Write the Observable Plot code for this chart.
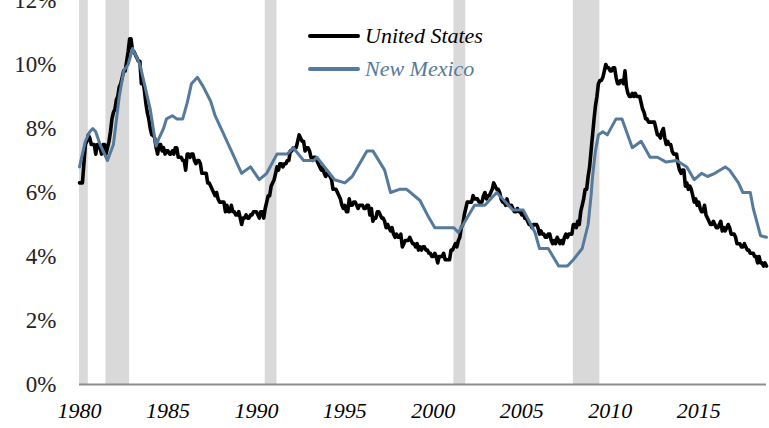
<!DOCTYPE html>
<html><head><meta charset="utf-8">
<script src="https://cdn.jsdelivr.net/npm/d3@7"></script>
<script src="https://cdn.jsdelivr.net/npm/@observablehq/plot@0.6"></script>
<style>
body{margin:0;background:#fff;}
#wrap{position:relative;width:769px;height:428px;overflow:hidden;}
.legend{position:absolute;left:308px;top:19px;font-family:"Liberation Serif",serif;font-style:italic;font-size:22px;}
.row{display:flex;align-items:center;height:33px;}
.sw{width:52px;height:4px;margin-right:5px;border-radius:2px;}
</style></head><body><div id="wrap"></div>
<script>
// US unemployment rate, monthly from Jan 1980
const usStartYear = 1980;
const usRate = [
6.3,6.3,6.3,6.9,7.5,7.6,7.8,7.7,7.5,7.5,7.5,7.2,
7.5,7.4,7.4,7.2,7.5,7.5,7.2,7.4,7.6,7.9,8.3,8.5,
8.6,8.9,9.0,9.3,9.4,9.6,9.8,9.8,10.1,10.4,10.8,10.8,
10.4,10.4,10.3,10.2,10.1,10.1,9.4,9.5,9.2,8.8,8.5,8.3,
8.0,7.8,7.8,7.7,7.4,7.2,7.5,7.5,7.3,7.4,7.2,7.3,
7.3,7.2,7.2,7.3,7.2,7.4,7.4,7.1,7.1,7.1,7.0,7.0,
6.7,7.2,7.2,7.1,7.2,7.2,7.0,6.9,7.0,7.0,6.9,6.6,
6.6,6.6,6.6,6.3,6.3,6.2,6.1,6.0,5.9,6.0,5.8,5.7,
5.7,5.7,5.7,5.4,5.6,5.4,5.4,5.6,5.4,5.4,5.3,5.3,
5.4,5.2,5.0,5.2,5.2,5.3,5.2,5.2,5.3,5.3,5.4,5.4,
5.4,5.3,5.2,5.4,5.4,5.2,5.5,5.7,5.9,5.9,6.2,6.3,
6.4,6.6,6.8,6.7,6.9,6.9,6.8,6.9,6.9,7.0,7.0,7.3,
7.3,7.4,7.4,7.4,7.6,7.8,7.7,7.6,7.6,7.3,7.4,7.4,
7.3,7.1,7.0,7.1,7.1,7.0,6.9,6.8,6.7,6.8,6.6,6.5,
6.6,6.6,6.5,6.4,6.1,6.1,6.1,6.0,5.9,5.8,5.6,5.5,
5.6,5.4,5.4,5.8,5.6,5.6,5.7,5.7,5.6,5.5,5.6,5.6,
5.6,5.5,5.5,5.6,5.6,5.3,5.5,5.1,5.2,5.2,5.4,5.4,
5.3,5.2,5.2,5.1,4.9,5.0,4.9,4.8,4.9,4.7,4.6,4.7,
4.6,4.6,4.7,4.3,4.4,4.5,4.5,4.5,4.6,4.5,4.4,4.4,
4.3,4.4,4.2,4.3,4.2,4.3,4.3,4.2,4.2,4.1,4.1,4.0,
4.0,4.1,4.0,3.8,4.0,4.0,4.0,4.1,3.9,3.9,3.9,3.9,
4.2,4.2,4.3,4.4,4.3,4.5,4.6,4.9,5.0,5.3,5.5,5.7,
5.7,5.7,5.7,5.9,5.8,5.8,5.8,5.7,5.7,5.7,5.9,6.0,
5.8,5.9,5.9,6.0,6.1,6.3,6.2,6.1,6.1,6.0,5.8,5.7,
5.7,5.6,5.8,5.6,5.6,5.6,5.5,5.4,5.4,5.5,5.4,5.4,
5.3,5.4,5.2,5.2,5.1,5.0,5.0,4.9,5.0,5.0,5.0,4.9,
4.7,4.8,4.7,4.7,4.6,4.6,4.7,4.7,4.5,4.4,4.5,4.4,
4.6,4.5,4.4,4.5,4.4,4.6,4.7,4.6,4.7,4.7,4.7,5.0,
5.0,4.9,5.1,5.0,5.4,5.6,5.8,6.1,6.1,6.5,6.8,7.3,
7.8,8.3,8.7,9.0,9.4,9.5,9.5,9.6,9.8,10.0,9.9,9.9,
9.8,9.8,9.9,9.9,9.6,9.4,9.4,9.5,9.5,9.4,9.8,9.3,
9.1,9.0,9.0,9.1,9.0,9.1,9.0,9.0,9.0,8.8,8.6,8.5,
8.3,8.3,8.2,8.2,8.2,8.2,8.2,8.0,7.8,7.8,7.7,7.9,
8.0,7.7,7.5,7.6,7.5,7.5,7.3,7.2,7.2,7.2,6.9,6.7,
6.6,6.7,6.7,6.2,6.3,6.1,6.2,6.1,5.9,5.7,5.8,5.6,
5.7,5.5,5.4,5.4,5.6,5.3,5.2,5.1,5.0,5.0,5.1,5.0,
4.9,4.9,5.0,5.1,4.8,4.9,4.8,4.9,5.0,4.9,4.7,4.7,
4.7,4.6,4.4,4.4,4.4,4.3,4.3,4.4,4.3,4.2,4.2,4.1,
4.1,4.1,4.0,4.0,3.8,4.0,3.8,3.8,3.7,3.8,3.7
];
// New Mexico unemployment rate
const nmMonths = ["1980-01","1980-05","1980-08","1980-10","1980-12","1981-03","1981-08","1981-12","1982-04","1982-07","1982-10","1983-01","1983-06","1983-09","1984-01","1984-04","1984-05","1984-07","1984-10","1984-12","1985-04","1985-07","1985-11","1986-02","1986-05","1986-09","1987-01","1987-06","1987-09","1988-02","1988-08","1989-03","1989-09","1990-03","1990-08","1991-03","1991-10","1992-02","1992-09","1993-04","1993-06","1994-06","1995-01","1995-06","1996-04","1996-08","1997-04","1997-08","1998-02","1998-07","1999-04","1999-09","2000-02","2001-03","2001-06","2002-05","2002-12","2003-08","2004-01","2004-07","2005-02","2005-10","2006-01","2006-07","2007-02","2007-08","2007-12","2008-06","2008-10","2008-12","2009-01","2009-03","2009-05","2009-08","2009-11","2010-05","2010-09","2011-04","2011-10","2012-04","2012-09","2013-03","2013-10","2014-05","2014-10","2015-03","2015-07","2015-12","2016-07","2016-10","2017-04","2017-07","2017-12","2018-02","2018-07","2018-11"];
const nmRate = [6.8,7.6,7.9,8.0,7.9,7.5,7.0,7.5,9.0,9.8,10.0,10.5,10.0,9.4,8.6,7.7,7.45,7.7,8.0,8.3,8.4,8.3,8.3,8.8,9.4,9.6,9.3,8.85,8.4,7.9,7.3,6.6,6.8,6.4,6.6,7.2,7.2,7.4,7.0,7.0,7.1,6.4,6.3,6.5,7.3,7.3,6.7,6.0,6.1,6.1,5.75,5.3,4.9,4.9,4.75,5.6,5.6,6.0,5.75,5.45,5.45,4.75,4.25,4.25,3.7,3.7,3.9,4.25,5.0,5.9,6.5,7.3,7.8,7.9,7.8,8.3,8.3,7.4,7.6,7.1,7.1,6.95,7.0,6.8,6.4,6.6,6.5,6.6,6.8,6.7,6.3,6.0,6.0,5.5,4.65,4.6];
// NBER recessions
const recStart = ["1980-01","1981-07","1990-07","2001-03","2007-12"];
const recEnd   = ["1980-07","1982-11","1991-03","2001-11","2009-06"];
const xTickYears = [1980,1985,1990,1995,2000,2005,2010,2015];
const yTicks = [0,2,4,6,8,10,12];
const seriesNames = ["United States","New Mexico"];
const seriesColors = ["#000000","#557a9b"];

const usData = usRate.map((v,i)=>({date:new Date(Date.UTC(usStartYear,i,1)),v}));
const nmData = nmMonths.map((m,i)=>({date:new Date(m+"-01T00:00:00Z"),v:nmRate[i]}));
const recessions = recStart.map((s,i)=>({x1:new Date(s+"-01T00:00:00Z"),x2:new Date(recEnd[i]+"-01T00:00:00Z")}));

const chart = Plot.plot({
  width:769,height:428,marginLeft:79,marginRight:3,marginTop:0,marginBottom:44,
  style:{fontFamily:"'Liberation Serif',serif",background:"white",color:"#000"},
  x:{type:"utc",domain:[new Date("1980-01-01T00:00:00Z"),new Date("2018-11-01T00:00:00Z")]},
  y:{domain:[0,12]},
  marks:[
    Plot.rect(recessions,{x1:"x1",x2:"x2",y1:0,y2:12,fill:"#d9d9d9"}),
    Plot.ruleY([0],{stroke:"#8c8c8c",strokeWidth:2}),
    Plot.line(usData,{x:"date",y:"v",stroke:seriesColors[0],strokeWidth:3.6,strokeLinejoin:"round"}),
    Plot.line(nmData,{x:"date",y:"v",stroke:seriesColors[1],strokeWidth:3,strokeLinejoin:"round"}),
    Plot.axisX({ticks:xTickYears.map(y=>new Date(Date.UTC(y,0,1))),tickFormat:d=>String(d.getUTCFullYear()),tickSize:0,tickPadding:18,fontSize:22,fontStyle:"italic",fill:"#000",label:null}),
    Plot.axisY({ticks:yTicks,tickFormat:d=>d+"%",tickSize:0,tickPadding:23,fontSize:23,fill:"#222",label:null})
  ]
});
const wrap = document.getElementById("wrap");
wrap.appendChild(chart);
const lg = document.createElement("div");
lg.className = "legend";
seriesNames.forEach((n,i)=>{
  const r = document.createElement("div"); r.className="row";
  const s = document.createElement("div"); s.className="sw"; s.style.background=seriesColors[i];
  const t = document.createElement("span"); t.textContent=n; t.style.color=seriesColors[i];
  r.appendChild(s); r.appendChild(t); lg.appendChild(r);
});
wrap.appendChild(lg);
</script></body></html>
